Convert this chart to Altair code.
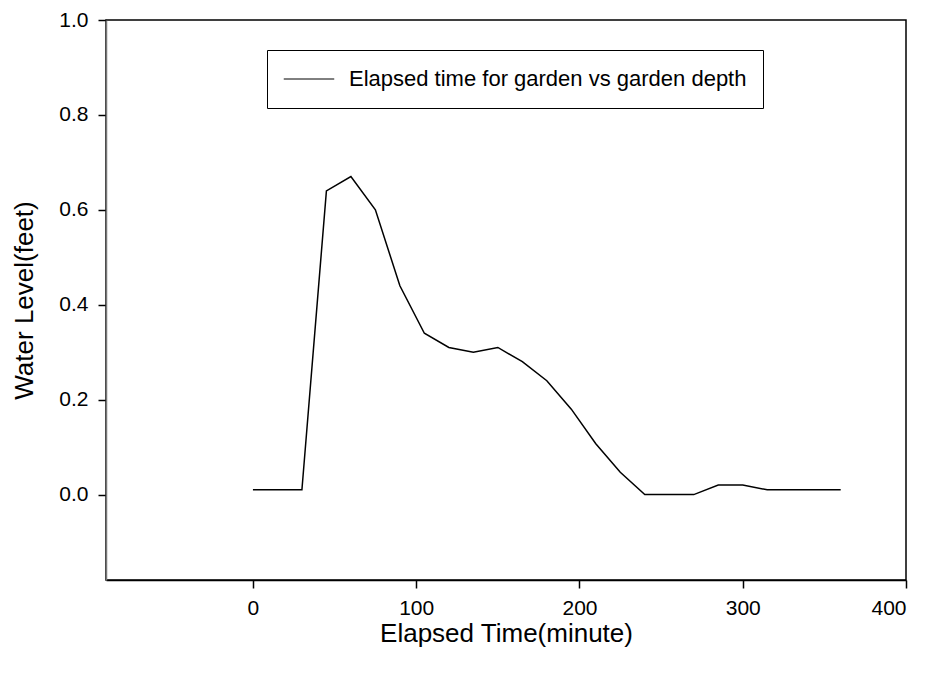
import altair as alt
import pandas as pd

minutes = [0, 15, 30, 45, 60, 75, 90, 105, 120, 135, 150, 165, 180, 195, 210,
           225, 240, 255, 270, 285, 300, 315, 330, 345, 360]
depth = [0.01, 0.01, 0.01, 0.64, 0.67, 0.60, 0.44, 0.34, 0.31, 0.30, 0.31, 0.28,
         0.24, 0.18, 0.107, 0.047, 0.0, 0.0, 0.0, 0.02, 0.02, 0.01, 0.01, 0.01, 0.01]
series_name = "Elapsed time for garden vs garden depth"

df = pd.DataFrame({"t": minutes, "d": depth, "s": series_name})

FONT = "Liberation Sans"

chart = alt.Chart(df).mark_line(strokeWidth=1.5).encode(
    x=alt.X("t:Q",
            scale=alt.Scale(domain=[-90, 400], nice=False, zero=False),
            axis=alt.Axis(values=[0, 100, 200, 300, 400], format="d",
                          title="Elapsed Time(minute)", titlePadding=2,
                          labelPadding=9)),
    y=alt.Y("d:Q",
            scale=alt.Scale(domain=[-0.18, 1.0], nice=False, zero=False),
            axis=alt.Axis(values=[0.0, 0.2, 0.4, 0.6, 0.8, 1.0], format=".1f",
                          title="Water Level(feet)", titlePadding=21,
                          labelPadding=10)),
    color=alt.Color("s:N",
                    scale=alt.Scale(range=["black"]),
                    legend=alt.Legend(orient="none", legendX=161, legendY=30,
                                      title=None, strokeColor="black",
                                      padding=16, symbolType="stroke",
                                      symbolSize=2550, symbolStrokeWidth=1,
                                      symbolStrokeColor="#666666",
                                      labelFontSize=22, labelFont=FONT,
                                      labelColor="black", labelOffset=14,
                                      clipHeight=26,
                                      labelLimit=700)),
).properties(
    width=800, height=560,
    autosize=alt.AutoSizeParams(type="none"),
    padding={"left": 98, "top": 12, "right": 14, "bottom": 85},
).configure_view(
    stroke="black", strokeWidth=1.5
).configure_axis(
    grid=False, labelFont=FONT, titleFont=FONT, labelFontSize=21,
    titleFontSize=26, titleFontWeight="normal", labelColor="black",
    titleColor="black", tickColor="black", domainColor="black",
    tickSize=8, domainWidth=1.5, tickWidth=1.5
).configure_axisY(
    domainColor="#777777"
)

chart.save("out.html", embed_options={"renderer": "svg", "actions": False})
